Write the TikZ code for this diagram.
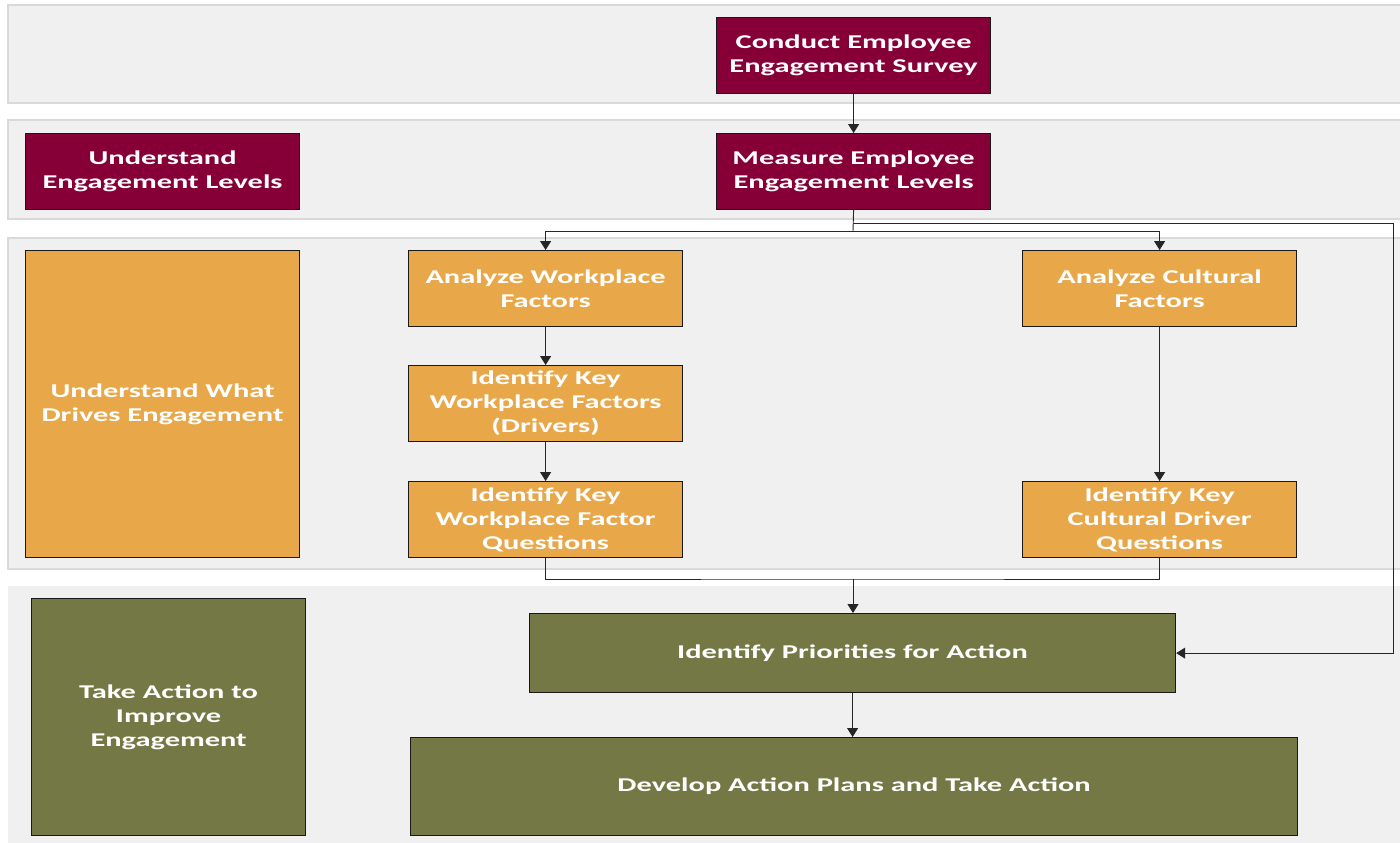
\documentclass[tikz,border=0pt]{standalone}
\usepackage{fontspec}
\setmainfont{Carlito}
\newfontfamily\widefont{Carlito}[FakeStretch=1.56]
\usetikzlibrary{arrows.meta}
\definecolor{bandfill}{HTML}{F0F0F0}
\definecolor{bandline}{HTML}{D9D9D9}
\definecolor{maroon}{HTML}{860037}
\definecolor{amber}{HTML}{E8A84A}
\definecolor{olive}{HTML}{737845}
\tikzset{
  band/.style={fill=bandfill, draw=bandline, line width=1.2pt},
  boxbase/.style={draw=black!90, line width=1.2pt, text=white, align=center,
    inner sep=0pt, anchor=north west, font=\widefont\bfseries\fontsize{19.5}{24}\selectfont},
  redbox/.style={boxbase, fill=maroon},
  orangebox/.style={boxbase, fill=amber},
  greenbox/.style={boxbase, fill=olive},
  link/.style={draw=black!85, line width=0.9pt},
  arrowlink/.style={link, -{Triangle[length=9pt,width=11pt]}},
}
\begin{document}
\begin{tikzpicture}[x=1pt,y=-1pt]
\useasboundingbox (0,0) rectangle (1400,843);
\clip (0,0) rectangle (1400,843);
% swimlane bands
\draw[band] (8,5) rectangle (1410,103);
\draw[band] (8,120) rectangle (1410,219);
\draw[band] (8,238) rectangle (1410,569);
\fill[bandfill] (8,586) rectangle (1410,850);

% lanes 1 and 2
\node[redbox, minimum width=274pt, minimum height=76pt] (survey) at (716,17) {Conduct Employee\\Engagement Survey};
\node[redbox, minimum width=274pt, minimum height=76pt] (measure) at (716,133) {Measure Employee\\Engagement Levels};
\node[redbox, minimum width=274pt, minimum height=76pt] (levels) at (25,133) {Understand\\Engagement Levels};

% lane 3
\node[orangebox, minimum width=274pt, minimum height=307pt] (drives) at (25,250) {Understand What\\Drives Engagement};
\node[orangebox, minimum width=274pt, minimum height=76pt] (workplace) at (408,250) {Analyze Workplace\\Factors};
\node[orangebox, minimum width=274pt, minimum height=76pt] (drivers) at (408,365) {Identify Key\\Workplace Factors\\(Drivers)};
\node[orangebox, minimum width=274pt, minimum height=76pt] (wpq) at (408,481) {Identify Key\\Workplace Factor\\Questions};
\node[orangebox, minimum width=274pt, minimum height=76pt] (cultural) at (1022,250) {Analyze Cultural\\Factors};
\node[orangebox, minimum width=274pt, minimum height=76pt] (cultq) at (1022,481) {Identify Key\\Cultural Driver\\Questions};

% lane 4
\node[greenbox, minimum width=274pt, minimum height=237pt] (action) at (31,598) {Take Action to\\Improve\\Engagement};
\node[greenbox, minimum width=646pt, minimum height=79pt] (priorities) at (529,613) {Identify Priorities for Action};
\node[greenbox, minimum width=887pt, minimum height=98pt] (plans) at (410,737) {Develop Action Plans and Take Action};

% connectors
\coordinate (split) at (853,231);
\coordinate (loop) at (853,223);
\coordinate (loopcorner) at (1393,223);
\coordinate (merge) at (853,579);
\draw[arrowlink] (survey.south) -- (measure.north);
\draw[link] (measure.south) -- (split);
\draw[arrowlink] (split) -| (workplace.north);
\draw[arrowlink] (split) -| (cultural.north);
\draw[arrowlink] (loop) -- (loopcorner) |- (priorities.east);
\draw[arrowlink] (workplace.south) -- (drivers.north);
\draw[arrowlink] (drivers.south) -- (wpq.north);
\draw[arrowlink] (cultural.south) -- (cultq.north);
\draw[link] (wpq.south) |- (merge) -| (cultq.south);
\draw[arrowlink] (merge) -- (merge |- priorities.north);
\draw[arrowlink] (priorities.south) -- (priorities.south |- plans.north);
\end{tikzpicture}
\end{document}
